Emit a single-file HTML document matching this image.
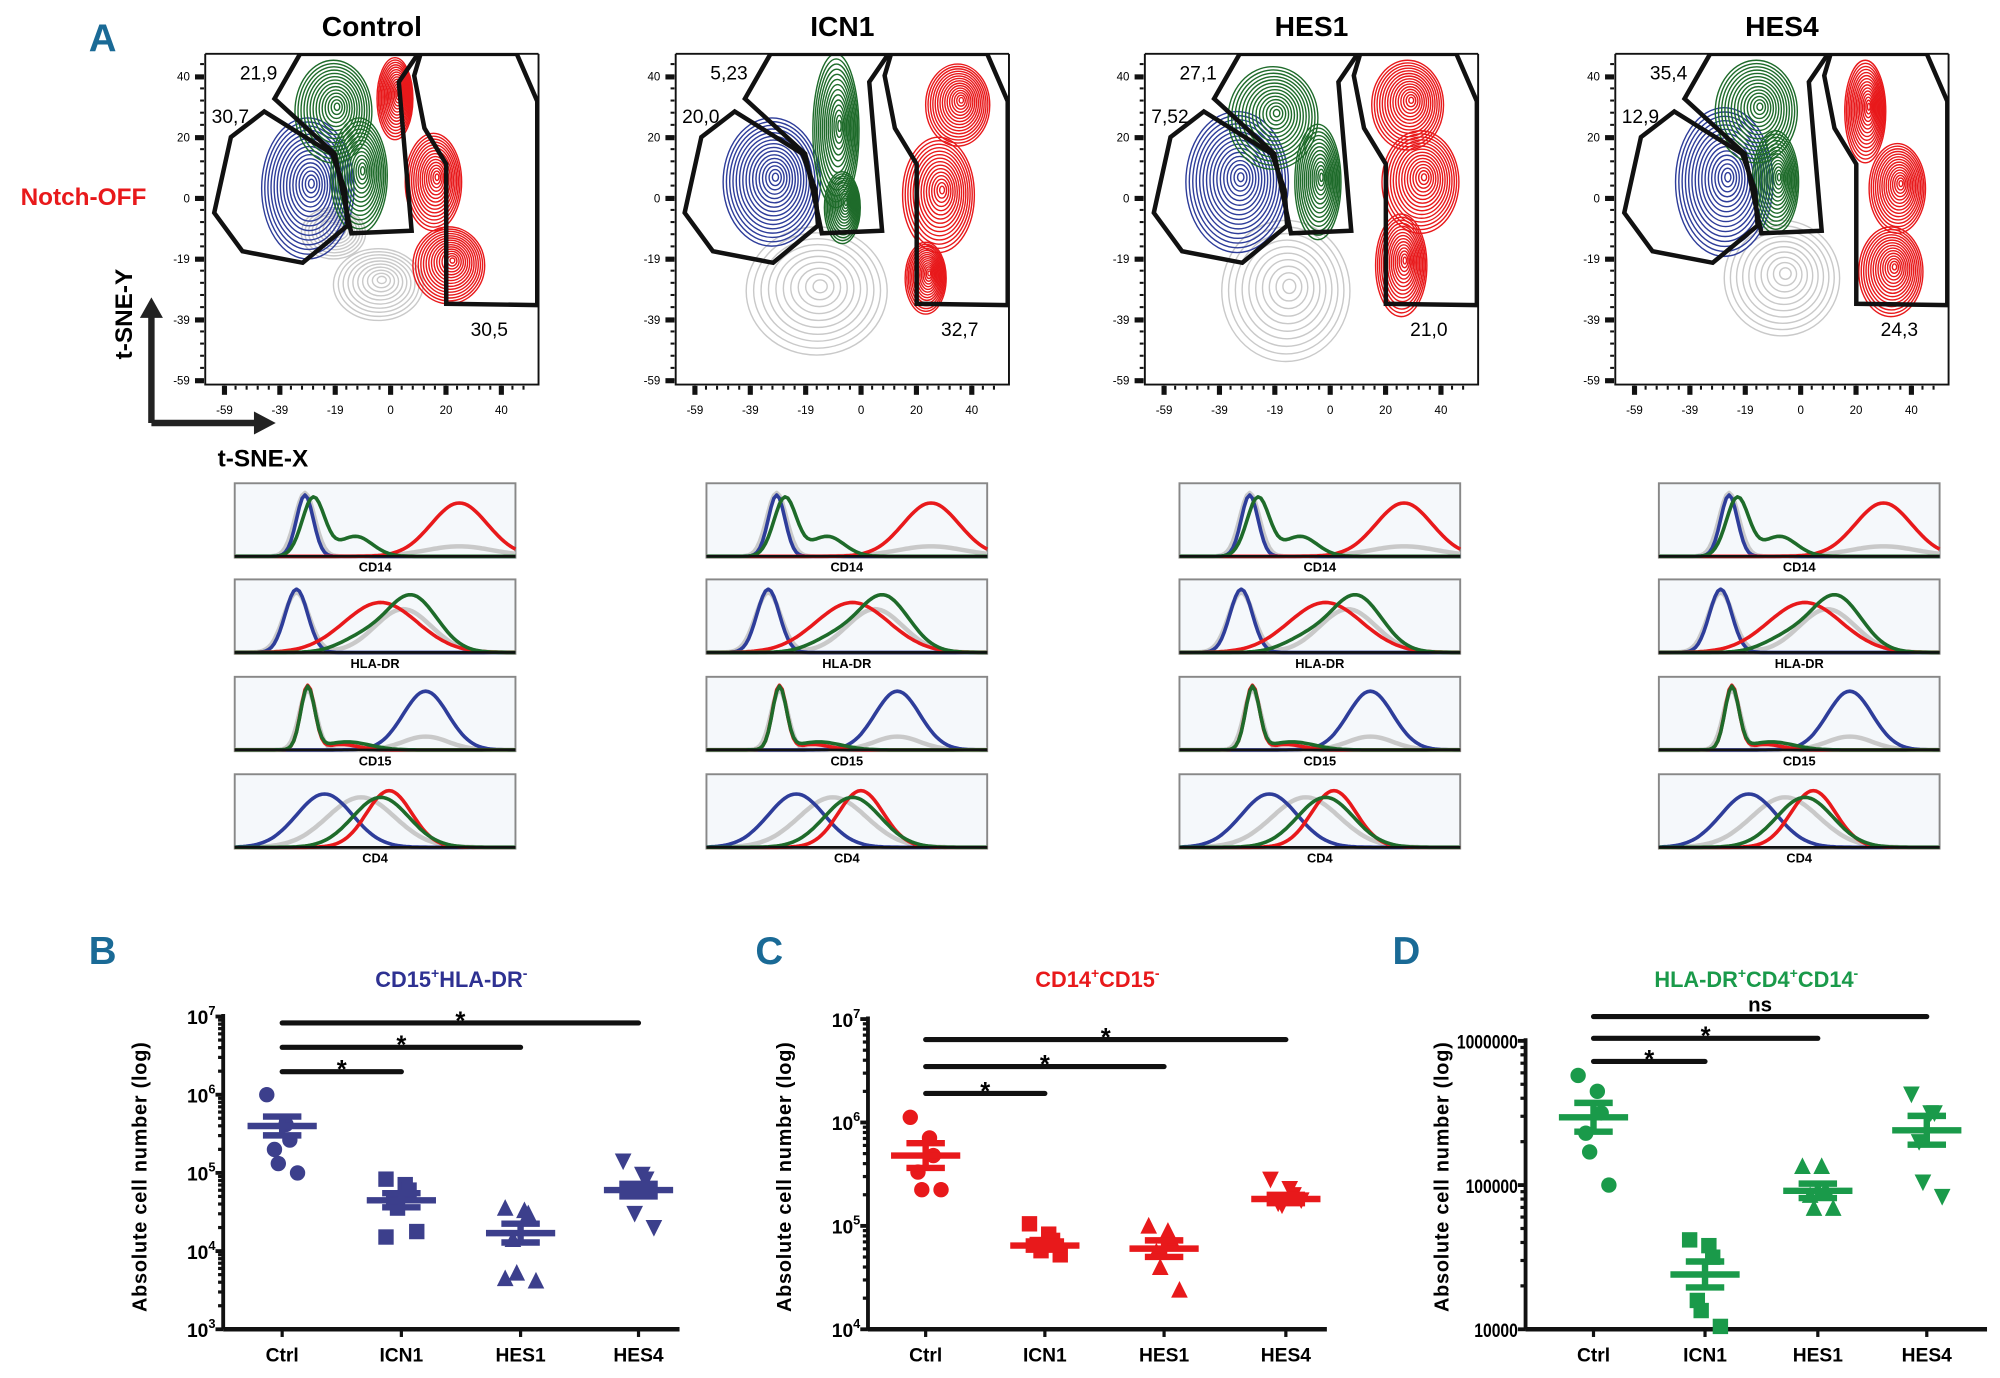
<!DOCTYPE html>
<html><head><meta charset="utf-8">
<style>
html,body{margin:0;padding:0;background:#fff;}
svg{display:block;font-family:"Liberation Sans",sans-serif;}
.cond{font-family:"Liberation Sans Narrow","Liberation Sans",sans-serif;}
</style></head>
<body>
<svg id="fig" width="2000" height="1378" viewBox="0 0 1560 1075" xmlns="http://www.w3.org/2000/svg">
<rect width="1560" height="1075" fill="#fff"/>
<text x="80" y="40" font-size="30" font-weight="bold" fill="#1a6a96" text-anchor="middle">A</text>
<text x="65" y="160" font-size="19" font-weight="bold" fill="#e8191b" text-anchor="middle">Notch-OFF</text>
<text transform="translate(103,245) rotate(-90)" font-size="19" font-weight="bold" text-anchor="middle">t-SNE-Y</text>
<text x="205" y="364" font-size="19" font-weight="bold" text-anchor="middle">t-SNE-X</text>
<g fill="#222" stroke="#222">
<path d="M118,330 V245 M118,330 H200" stroke-width="5" fill="none"/>
<polygon points="109,248 127,248 118,232" stroke="none"/>
<polygon points="198,321 198,339 215,330" stroke="none"/>
</g>
<g id="topg"></g>
<g id="hists"></g>
<g id="scatters"></g>
</svg>
<script>
const NS="http://www.w3.org/2000/svg";
function mk(tag,attrs,parent){const e=document.createElementNS(NS,tag);for(const k in attrs)e.setAttribute(k,attrs[k]);if(parent)parent.appendChild(e);return e;}
const COL={blue:"#2e3d9a",green:"#1e6b2a",red:"#e8191b",gray:"#c9c9c9"};

/* ---------- t-SNE panels ---------- */
const panelNames=["Control","ICN1","HES1","HES4"];
const panelLeft=[160,527,893,1260];
const histLeft=[183,551,920,1294];
const gateBlueLabels=["30,7","20,0","7,52","12,9"];
const gateGreenLabels=["21,9","5,23","27,1","35,4"];
const gateRedLabels=["30,5","32,7","21,0","24,3"];
const xTickLabels=["-59","-39","-19","0","20","40"];
const yTickLabels=["40","20","0","-19","-39","-59"];
const blueBlobs=[[[80,105,36,55]],[[75,100,38,50]],[[72,100,40,55]],[[85,100,38,58]]];
const greenBlobs=[[[100,45,30,40],[120,95,22,45]],[[125,60,18,60],[130,120,14,28]],[[100,50,35,40],[135,100,18,45]],[[110,45,32,40],[125,100,18,40]]];
const redBlobs=[[[148,35,14,32],[178,100,22,38],[190,165,28,30]],[[220,40,25,32],[205,110,28,45],[195,175,16,28]],[[205,40,28,35],[215,100,30,40],[200,165,20,40]],[[195,45,16,40],[220,105,22,35],[215,170,25,35]]];
const grayBlobs=[[[135,180,35,28],[100,140,25,20]],[[110,185,55,50]],[[110,185,50,55]],[[130,175,45,45]]];
const gateBlue=[[46,45],[20,65],[7,124],[29,154],[76,163],[111,134],[109,106],[99,78]];
const gateGreen=[[54,35],[74,0],[166,0],[151,22],[161,138],[114,140],[101,78]];
const gateRed=[[168,0],[243,0],[259,37],[259,196],[188,195],[188,86],[171,58],[163,17]];

const topGroup=document.getElementById('topg');
panelNames.forEach((name,i)=>{
  const L=panelLeft[i],T=42,W=260,H=258;
  const g=mk('g',{},topGroup);
  
  
  const t=mk('text',{x:L+W/2,y:28,'font-size':22,'font-weight':'bold','text-anchor':'middle'},g);t.textContent=name;
  
  
  const clip=mk('clipPath',{id:'clip'+i},g);mk('rect',{x:L,y:T,width:W,height:H},clip);
  const cg=mk('g',{'clip-path':'url(#clip'+i+')',fill:'none'},g);
  const draw=(blobs,color,n)=>blobs.forEach(b=>{for(let k=1;k<=n;k++){const f=k/n;
    const e=mk('ellipse',{cx:L+b[0]+(1-f)*3,cy:T+b[1]-(1-f)*4,rx:b[2]*f,ry:b[3]*f,stroke:color,'stroke-width':1.1},cg);
    
    }});
  draw(grayBlobs[i],COL.gray,10);
  draw(blueBlobs[i],COL.blue,16);
  draw(greenBlobs[i],COL.green,14);
  draw(redBlobs[i],COL.red,15);
  [gateBlue,gateGreen,gateRed].forEach((gt,j)=>{
    const p=mk('polygon',{points:gt.map(q=>(L+q[0])+','+(T+q[1])).join(' '),fill:'none',stroke:'#111','stroke-width':3.5,'stroke-linejoin':'miter'},cg);
    
    
  });
  mk('path',{d:`M${L},${T} V${T+H} H${L+W} V${T}`,fill:'none',stroke:'#111','stroke-width':1.5},g);
  mk('line',{x1:L,y1:T,x2:L+W,y2:T,stroke:'#111','stroke-width':1.5},g);
  const lab=(txt,x,y,nm)=>{const e=mk('text',{x:L+x,y:T+y,'font-size':15,class:'cond'},g);e.textContent=txt;
    
    };
  lab(gateGreenLabels[i],27,20,'gate-green-percent');
  lab(gateBlueLabels[i],5,54,'gate-blue-percent');
  lab(gateRedLabels[i],207,220,'gate-red-percent');
  xTickLabels.forEach((s,k)=>{const x=L+15+k*43.2;
    mk('rect',{x:x-2,y:T+H+1,width:4,height:7,fill:'#111'},g);
    const e=mk('text',{x:x,y:T+H+23,'font-size':9,'text-anchor':'middle',class:'cond'},g);e.textContent=s;
    
    });
  for(let k=0;k<28;k++){mk('rect',{x:L+15+k*8.64-0.8,y:T+H+1,width:1.6,height:3,fill:'#111'},g);}
  yTickLabels.forEach((s,k)=>{const y=T+18+k*47.4;
    mk('rect',{x:L-8,y:y-2,width:7,height:4,fill:'#111'},g);
    const e=mk('text',{x:L-12,y:y+3,'font-size':9,'text-anchor':'end',class:'cond'},g);e.textContent=s;
    
    });
  for(let k=0;k<27;k++){mk('rect',{x:L-4,y:T+8+k*9.48-0.8,width:3,height:1.6,fill:'#111'},g);}
});

/* ---------- histograms ---------- */
const markers=["CD14","HLA-DR","CD15","CD4"];
const histTop=[377,452,528,604];
const histGray=[[[0.25,0.035,0.95],[0.8,0.12,0.15]],[[0.22,0.045,0.9],[0.6,0.1,0.65]],[[0.26,0.03,0.9],[0.68,0.08,0.2]],[[0.45,0.12,0.75]]];
const histBlue=[[[0.25,0.03,0.92]],[[0.22,0.04,0.95]],[[0.68,0.08,0.88]],[[0.32,0.1,0.8]]];
const histGreen=[[[0.28,0.04,0.88],[0.43,0.06,0.3]],[[0.63,0.09,0.85],[0.45,0.08,0.2]],[[0.26,0.025,0.93],[0.4,0.08,0.12]],[[0.52,0.1,0.75]]];
const histRed=[[[0.8,0.1,0.8]],[[0.52,0.13,0.75]],[[0.26,0.025,0.97],[0.38,0.06,0.08]],[[0.55,0.08,0.85]]];
const hists=document.getElementById('hists');
histLeft.forEach((L,i)=>{markers.forEach((m,r)=>{
  const T=histTop[r],W=219,H=58;
  const g=mk('g',{},hists);
  
  
  mk('rect',{x:L,y:T,width:W,height:H,fill:'#f5f8fb',stroke:'#888','stroke-width':1.5},g);
  const curve=(comps,color,w)=>{let d='';for(let s=0;s<=100;s++){const u=s/100;let v=0;comps.forEach(c=>{v+=c[2]*Math.exp(-0.5*Math.pow((u-c[0])/c[1],2));});v=Math.min(v,0.97);
      d+=(s?'L':'M')+(L+u*W).toFixed(1)+','+(T+H-1-v*(H-6)).toFixed(1);}
    const p=mk('path',{d:d,fill:'none',stroke:color,'stroke-width':w,'stroke-linejoin':'round'},g);
    
    };
  curve(histGray[r],COL.gray,3.5);
  curve(histBlue[r],COL.blue,2.8);
  curve(histRed[r],COL.red,2.8);
  curve(histGreen[r],COL.green,2.8);
  mk('line',{x1:L,y1:T+H-1,x2:L+W,y2:T+H-1,stroke:'#111','stroke-width':2},g);
  const e=mk('text',{x:L+W/2,y:T+H+11,'font-size':10,'font-weight':'bold','text-anchor':'middle'},g);e.textContent=m;
  
  
});});

/* ---------- scatter panels B, C, D ---------- */
const categories=["Ctrl","ICN1","HES1","HES4"];
const bValues=[[6.0,5.62,5.42,5.3,5.12,5.0],[4.92,4.85,4.78,4.62,4.55,4.25,4.18],[4.55,4.52,4.48,4.15,3.72,3.62,3.65],[5.15,4.98,4.92,4.78,4.48,4.3]];
const bMeans=[5.6,4.65,4.23,4.78];
const bSems=[0.12,0.09,0.12,0.08];
const cValues=[[6.05,5.85,5.68,5.52,5.35,5.35],[5.02,4.92,4.86,4.82,4.76,4.72],[5.0,4.95,4.86,4.75,4.6,4.38],[5.45,5.36,5.3,5.22,5.2,5.25]];
const cMeans=[5.68,4.81,4.78,5.26];
const cSems=[0.12,0.04,0.08,0.04];
const dValues=[[5.76,5.65,5.5,5.36,5.23,5.0],[4.62,4.58,4.5,4.2,4.13,4.02],[5.13,5.13,4.97,4.93,4.84,4.84],[5.63,5.5,5.5,5.3,5.02,4.92]];
const dMeans=[5.47,4.38,4.96,5.38];
const dSems=[0.1,0.09,0.05,0.1];
const panels=[
 {id:'b',label:'B',lx:80,title:['CD15','+','HLA-DR','-'],color:'#2e3192',mcolor:'#3c3f8c',ax:174,x1:530,yTop:793,cats:[220,313,406,498],ymin:3,ymax:7,vals:bValues,means:bMeans,sems:bSems,ticks:[3,4,5,6,7],pow:true,
  brackets:[[1,836],[2,817],[3,798]],sig:['*','*','*']},
 {id:'c',label:'C',lx:600,title:['CD14','+','CD15','-'],color:'#e8191b',mcolor:'#e8191b',ax:677,x1:1035,yTop:795,cats:[722,815,908,1003],ymin:4,ymax:7,vals:cValues,means:cMeans,sems:cSems,ticks:[4,5,6,7],pow:true,
  brackets:[[1,853],[2,832],[3,811]],sig:['*','*','*']},
 {id:'d',label:'D',lx:1097,title:['HLA-DR','+','CD4','+','CD14','-'],color:'#1a9a4a',mcolor:'#1a9a4a',ax:1190,x1:1550,yTop:812,cats:[1243,1330,1418,1503],ymin:4,ymax:6,vals:dValues,means:dMeans,sems:dSems,ticks:[4,5,6],pow:false,
  brackets:[[1,828],[2,810],[3,793]],sig:['*','*','ns']}
];
const sc=document.getElementById('scatters');
panels.forEach(P=>{
  const g=mk('g',{},sc);
  
  
  const yBot=1037, yTop=P.yTop;
  const Y=v=>yBot-(v-P.ymin)/(P.ymax-P.ymin)*(yBot-yTop);
  const pl=mk('text',{x:P.lx,y:752,'font-size':30,'font-weight':'bold',fill:'#1a6a96','text-anchor':'middle'},g);pl.textContent=P.label;
  
  
  const cx=(P.ax+P.x1)/2;
  const tt=mk('text',{x:cx,y:770,'font-size':17,'font-weight':'bold',fill:P.color,'text-anchor':'middle',class:'cond'},g);
  
  
  for(let k=0;k<P.title.length;k+=2){const a=mk('tspan',k?{dy:7}:{},tt);a.textContent=P.title[k];
    const s=mk('tspan',{dy:-7,'font-size':11},tt);s.textContent=P.title[k+1];}
  const yt=mk('text',{transform:`translate(${P.ax-60},918) rotate(-90)`,'font-size':15.5,'font-weight':'bold','text-anchor':'middle','letter-spacing':'0.6'},g);yt.textContent='Absolute cell number (log)';
  
  
  mk('line',{x1:P.ax,y1:yTop-2,x2:P.ax,y2:yBot,stroke:'#111','stroke-width':3},g);
  mk('line',{x1:P.ax,y1:yBot,x2:P.x1,y2:yBot,stroke:'#111','stroke-width':3.5},g);
  P.ticks.forEach(t=>{const y=Y(t);mk('line',{x1:P.ax-6,y1:y,x2:P.ax,y2:y,stroke:'#111','stroke-width':3},g);
    const e=mk('text',{x:P.ax-6,y:y+6,'font-size':15,'font-weight':'bold','text-anchor':'end',class:'cond'},g);
    
    
    if(P.pow){const a=mk('tspan',{},e);a.textContent='10';const b=mk('tspan',{dy:-7,'font-size':10},e);b.textContent=String(t);}
    else {e.textContent=String(Math.pow(10,t));e.setAttribute('textLength',String(Math.pow(10,t)).length*6.8);e.setAttribute('lengthAdjust','spacingAndGlyphs');}
    if(t<P.ymax)for(let m=2;m<10;m++){const ym=Y(t+Math.log10(m));mk('line',{x1:P.ax-4,y1:ym,x2:P.ax,y2:ym,stroke:'#111','stroke-width':2.5},g);}
  });
  P.cats.forEach((x,ci)=>{
    mk('line',{x1:x,y1:yBot,x2:x,y2:yBot+6,stroke:'#111','stroke-width':2.5},g);
    const e=mk('text',{x:x,y:1062,'font-size':15,'font-weight':'bold','text-anchor':'middle',class:'cond'},g);e.textContent=categories[ci];
    
    
    P.vals[ci].forEach((v,k)=>{const px=x+((k%3)-1)*9+(k%2?3:-3);const py=Y(v);let m;
      if(ci===0)m=mk('circle',{cx:px,cy:py,r:6,fill:P.mcolor},g);
      else if(ci===1)m=mk('rect',{x:px-6,y:py-6,width:12,height:12,fill:P.mcolor},g);
      else if(ci===2)m=mk('polygon',{points:`${px-6.5},${py+6} ${px+6.5},${py+6} ${px},${py-7}`,fill:P.mcolor},g);
      else m=mk('polygon',{points:`${px-6.5},${py-6} ${px+6.5},${py-6} ${px},${py+7}`,fill:P.mcolor},g);
      
      });
    const my=Y(P.means[ci]),hi=Y(P.means[ci]+P.sems[ci]),lo=Y(P.means[ci]-P.sems[ci]);
    const eb=mk('path',{d:`M${x-27},${my}H${x+27}M${x-15},${hi}H${x+15}M${x-15},${lo}H${x+15}M${x},${hi}V${lo}`,stroke:P.mcolor,'stroke-width':5,fill:'none'},g);
    
    
  });
  P.brackets.forEach((b,k)=>{const xa=P.cats[0],xb=P.cats[b[0]];
    const l=mk('line',{x1:xa,y1:b[1],x2:xb,y2:b[1],stroke:'#111','stroke-width':4,'stroke-linecap':'round'},g);
    
    
    const s=mk('text',{x:(xa+xb)/2,y:b[1]+(P.sig[k]==='ns'?-4:5),'font-size':P.sig[k]==='ns'?16:20,'font-weight':'bold','text-anchor':'middle'},g);s.textContent=P.sig[k];
    
    });
});
</script>
</body></html>
